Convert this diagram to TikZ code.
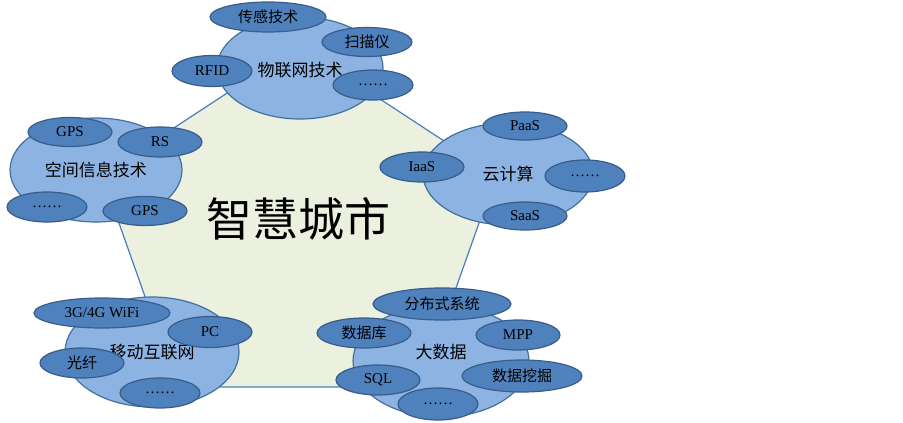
\documentclass[tikz,border=0pt]{standalone}
\usepackage{fontspec}
\setmainfont{Liberation Serif}
\newfontfamily\cjk{Noto Sans CJK SC}
\usetikzlibrary{shapes.geometric}
\definecolor{cityfill}{HTML}{EBF1DE}
\definecolor{cityline}{HTML}{4A7EBB}
\definecolor{bigfill}{HTML}{8DB3E2}
\definecolor{bigline}{HTML}{41719C}
\definecolor{smallfill}{HTML}{4F81BD}
\definecolor{smallline}{HTML}{385D8A}

\begin{document}
\begin{tikzpicture}[x=1pt,y=-1pt,
	big/.style={ellipse,draw=bigline,fill=bigfill,line width=1.2pt,inner sep=0pt,
		font=\cjk\fontsize{17}{17}\selectfont},
	small/.style={ellipse,draw=smallline,fill=smallfill,line width=1.2pt,inner sep=0pt,
		font=\fontsize{15}{15}\selectfont},
	wh/.style 2 args={minimum width=#1pt,minimum height=#2pt}]
	\useasboundingbox (0,0) rectangle (903,423);
	% the city
	\draw[fill=cityfill,draw=cityline,line width=1.2pt] (299,46) -- (496,175)
	-- (421,387) -- (177,387) -- (102,175) -- cycle;
	\node[font=\cjk\fontsize{46}{46}\selectfont] (city) at (298,219) {智慧城市};
	% internet of things
	\node[big,wh={166}{102},text height=18pt] (iot) at (300,68) {物联网技术};
	\node[small,wh={116}{30}] (iotA) at (268,17) {\cjk 传感技术};
	\node[small,wh={90}{29}] (iotB) at (367,42) {\cjk 扫描仪};
	\node[small,wh={80}{31}] (iotC) at (212,71) {RFID};
	\node[small,wh={80}{30}] (iotD) at (373,85) {……};
	% spatial information
	\node[big,wh={172}{104}] (geo) at (96,170) {空间信息技术};
	\node[small,wh={84}{29}] (geoA) at (70,132) {GPS};
	\node[small,wh={84}{30}] (geoB) at (160,142) {RS};
	\node[small,wh={80}{30}] (geoC) at (47,207) {……};
	\node[small,wh={84}{29}] (geoD) at (145,211) {GPS};
	% cloud computing
	\node[big,wh={170}{102}] (cloud) at (508,174) {云计算};
	\node[small,wh={84}{28}] (cloudA) at (525,126) {PaaS};
	\node[small,wh={84}{30}] (cloudB) at (422,167) {IaaS};
	\node[small,wh={80}{32}] (cloudC) at (585,176) {……};
	\node[small,wh={84}{28}] (cloudD) at (525,216) {SaaS};
	% mobile internet
	\node[big,wh={174}{110}] (mob) at (152,352) {移动互联网};
	\node[small,wh={136}{30}] (mobA) at (102,313) {3G/4G WiFi};
	\node[small,wh={84}{31}] (mobB) at (210,332) {PC};
	\node[small,wh={84}{30}] (mobC) at (82,363) {\cjk 光纤};
	\node[small,wh={80}{30}] (mobD) at (160,393) {……};
	% big data
	\node[big,wh={176}{112},text depth=20pt] (data) at (441,361) {大数据};
	\node[small,wh={138}{32}] (dataA) at (442,304) {\cjk 分布式系统};
	\node[small,wh={94}{30}] (dataB) at (364,333) {\cjk 数据库};
	\node[small,wh={84}{30}] (dataC) at (518,335) {MPP};
	\node[small,wh={84}{30}] (dataD) at (378,380) {SQL};
	\node[small,wh={120}{32}] (dataE) at (522,376) {\cjk 数据挖掘};
	\node[small,wh={80}{32}] (dataF) at (438,404) {……};
\end{tikzpicture}
\end{document}
